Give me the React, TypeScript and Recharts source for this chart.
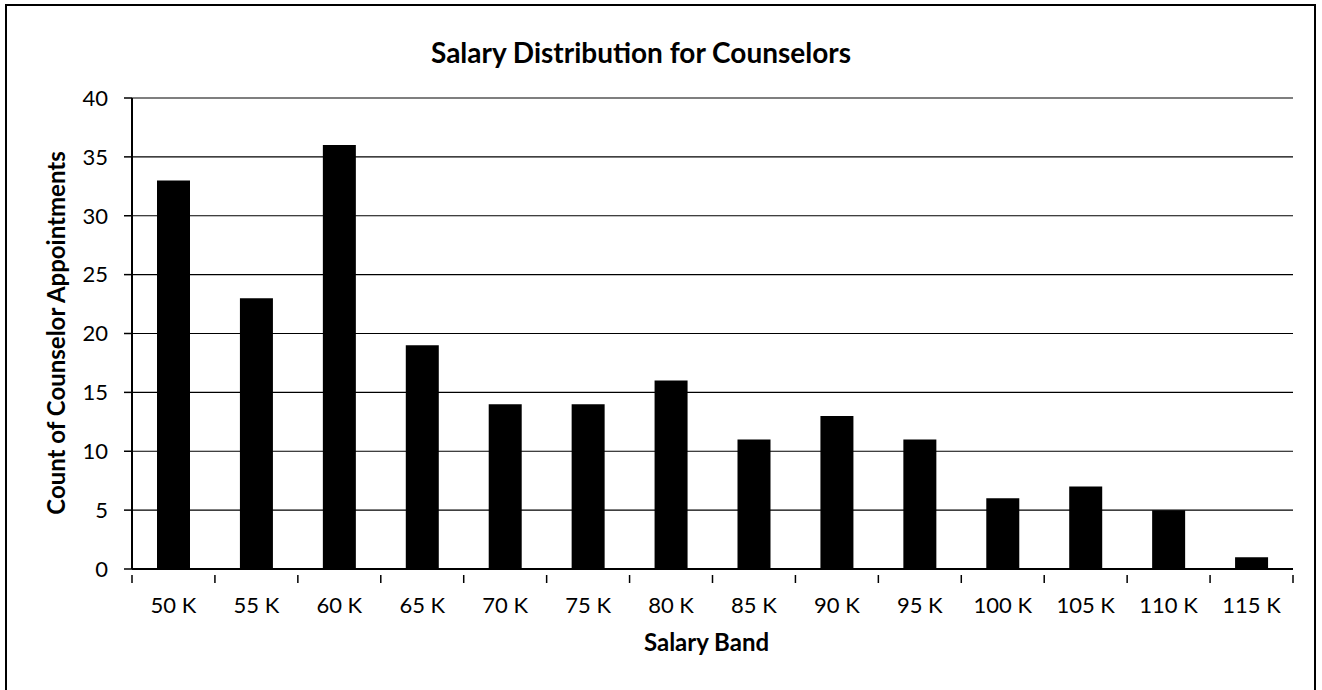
import React from 'react'
import {
  BarChart,
  Bar,
  XAxis,
  YAxis,
  CartesianGrid,
} from 'recharts'

const salaryBands = ['50 K', '55 K', '60 K', '65 K', '70 K', '75 K', '80 K', '85 K', '90 K', '95 K', '100 K', '105 K', '110 K', '115 K']
const appointmentCounts = [33, 23, 36, 19, 14, 14, 16, 11, 13, 11, 6, 7, 5, 1]
const yTicks = [0, 5, 10, 15, 20, 25, 30, 35, 40]

const WIDTH = 1322
const HEIGHT = 690
const PLOT_LEFT = 132
const PLOT_RIGHT = 1293
const FONT = 'Lato, "Open Sans", sans-serif'

const chartData = salaryBands.map((band, i) => ({ band, count: appointmentCounts[i] }))

const bandWidth = (PLOT_RIGHT - PLOT_LEFT) / salaryBands.length

// x ticks sit between the categories, like the Excel original
const BandTick = (props: any) => {
  const { x, y, payload, index } = props
  const left = x - bandWidth / 2
  const isLast = index === salaryBands.length - 1
  return (
    <g>
      <line x1={left} x2={left} y1={y - 2} y2={y + 6} stroke="#000" strokeWidth={1.5} />
      {isLast && (
        <line x1={x + bandWidth / 2} x2={x + bandWidth / 2} y1={y - 2} y2={y + 6} stroke="#000" strokeWidth={1.5} />
      )}
      <text x={x} y={y + 36} textAnchor="middle" fontSize={22} fontFamily={FONT} fill="#000">
        {payload.value}
      </text>
    </g>
  )
}

export default function App() {
  return (
    <div style={{ position: 'absolute', left: 0, top: 0, width: WIDTH, height: HEIGHT, background: '#fff', overflow: 'hidden' }}>
      <div
        style={{
          position: 'absolute',
          left: 5,
          top: 4,
          width: 1311,
          height: 720,
          border: '2px solid #000',
          boxSizing: 'border-box',
        }}
      />
      <div
        style={{
          position: 'absolute',
          left: 0,
          width: WIDTH - 40,
          top: 34,
          textAlign: 'center',
          fontFamily: FONT,
          fontWeight: 700,
          fontSize: 28,
          lineHeight: '36px',
        }}
      >
        Salary Distribution for Counselors
      </div>
      <div
        style={{
          position: 'absolute',
          left: 55,
          top: 333,
          transform: 'translate(-50%, -50%) rotate(-90deg)',
          whiteSpace: 'nowrap',
          fontFamily: FONT,
          fontWeight: 700,
          fontSize: 24,
        }}
      >
        Count of Counselor Appointments
      </div>
      <div
        style={{
          position: 'absolute',
          left: PLOT_LEFT - 6,
          width: PLOT_RIGHT - PLOT_LEFT,
          top: 626,
          textAlign: 'center',
          fontFamily: FONT,
          fontWeight: 700,
          fontSize: 24,
          lineHeight: '32px',
        }}
      >
        Salary Band
      </div>
      <div style={{ position: 'absolute', left: 0, top: 0 }}>
        <BarChart
          width={WIDTH}
          height={HEIGHT}
          data={chartData}
          margin={{ top: 98, right: WIDTH - PLOT_RIGHT, bottom: 91, left: PLOT_LEFT - 60 }}
        >
          <CartesianGrid vertical={false} stroke="#000" strokeWidth={1.2} />
          <XAxis
            dataKey="band"
            height={30}
            axisLine={{ stroke: '#000', strokeWidth: 2 }}
            tickLine={false}
            interval={0}
            tick={<BandTick />}
          />
          <YAxis
            width={60}
            domain={[0, 40]}
            ticks={yTicks}
            interval={0}
            axisLine={{ stroke: '#000', strokeWidth: 2 }}
            tickLine={{ stroke: '#000', strokeWidth: 1.5 }}
            tickSize={8}
            tickMargin={16}
            tick={{ fill: '#000', fontSize: 22, fontFamily: FONT }}
          />
          <Bar dataKey="count" fill="#000" barSize={33} isAnimationActive={false} />
        </BarChart>
      </div>
    </div>
  )
}
